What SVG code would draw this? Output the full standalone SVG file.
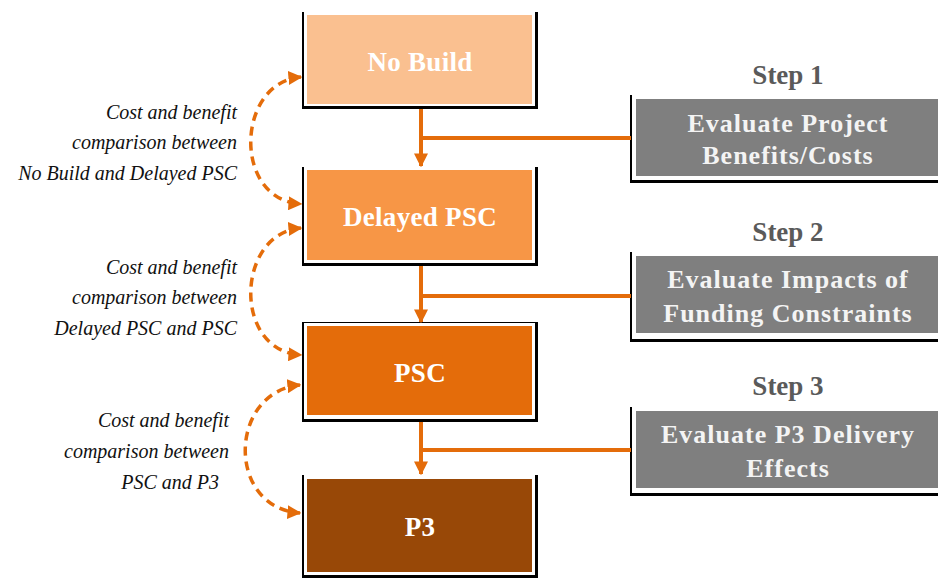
<svg xmlns="http://www.w3.org/2000/svg" width="938" height="579" viewBox="0 0 938 579">
  <defs>
    <style>
      .frame { fill: #000000; }
      .mat { fill: #FFFFFF; }
      .lbl { font-family: "Liberation Serif", "DejaVu Serif", serif; font-weight: bold; font-size: 27px; fill: #FFFFFF; text-anchor: middle; letter-spacing: 0.3px; }
      .step { font-family: "Liberation Serif", "DejaVu Serif", serif; font-weight: bold; font-size: 27px; fill: #5A5A5A; text-anchor: middle; }
      .act { font-family: "Liberation Serif", "DejaVu Serif", serif; font-weight: bold; font-size: 26px; fill: #F4F4F4; text-anchor: middle; letter-spacing: 1px; }
      .note { font-family: "Liberation Serif", "DejaVu Serif", serif; font-style: italic; font-size: 20px; fill: #111111; text-anchor: end; }
      .flow { fill: none; stroke: #E46C0A; stroke-width: 4; }
      .cmp { fill: none; stroke: #E46C0A; stroke-width: 3.5; stroke-dasharray: 9 6; }
    </style>
    <marker id="tip" viewBox="0 0 10 10" refX="9" refY="5" markerWidth="4" markerHeight="4" markerUnits="strokeWidth" orient="auto">
      <path d="M0,0 L10,5 L0,10 Z" fill="#E46C0A"/>
    </marker>
    <marker id="tipStart" viewBox="0 0 10 10" refX="1" refY="5" markerWidth="4" markerHeight="4" markerUnits="strokeWidth" orient="auto">
      <path d="M10,0 L0,5 L10,10 Z" fill="#E46C0A"/>
    </marker>
    <marker id="down" viewBox="0 0 10 10" refX="9" refY="5" markerWidth="3.5" markerHeight="3.5" markerUnits="strokeWidth" orient="auto">
      <path d="M0,0 L10,5 L0,10 Z" fill="#E46C0A"/>
    </marker>
  </defs>

  <!-- Scenario boxes -->
  <g id="no-build">
    <rect class="frame" x="302" y="12" width="236" height="97"/>
    <rect class="mat" x="304" y="11" width="231" height="95"/>
    <rect x="307" y="15" width="225" height="89" fill="#FAC090"/>
    <text class="lbl" x="420" y="71">No Build</text>
  </g>
  <g id="delayed-psc">
    <rect class="frame" x="302" y="167" width="236" height="99"/>
    <rect class="mat" x="304" y="166" width="231" height="97"/>
    <rect x="307" y="170" width="225" height="90" fill="#F79646"/>
    <text class="lbl" x="420" y="226">Delayed PSC</text>
  </g>
  <g id="psc">
    <rect class="frame" x="302" y="322" width="236" height="100"/>
    <rect class="mat" x="304" y="323" width="231" height="96"/>
    <rect x="307" y="326" width="225" height="89" fill="#E46C0A"/>
    <text class="lbl" x="420" y="382">PSC</text>
  </g>
  <g id="p3">
    <rect class="frame" x="302" y="475" width="236" height="103"/>
    <rect class="mat" x="304" y="474" width="231" height="101"/>
    <rect x="307" y="479" width="225" height="93" fill="#984807"/>
    <text class="lbl" x="420" y="536">P3</text>
  </g>

  <!-- Evaluation steps -->
  <g id="step-1">
    <text class="step" x="788" y="84">Step 1</text>
    <rect class="frame" x="630" y="95" width="315" height="88"/>
    <rect class="mat" x="632" y="94" width="313" height="86"/>
    <rect x="636" y="99" width="309" height="77" fill="#7F7F7F"/>
    <text class="act" x="788" y="132">Evaluate Project</text>
    <text class="act" x="788" y="164">Benefits/Costs</text>
  </g>
  <g id="step-2">
    <text class="step" x="788" y="241">Step 2</text>
    <rect class="frame" x="630" y="252" width="315" height="90"/>
    <rect class="mat" x="632" y="251" width="313" height="88"/>
    <rect x="636" y="256" width="309" height="77" fill="#7F7F7F"/>
    <text class="act" x="788" y="288">Evaluate Impacts of</text>
    <text class="act" x="788" y="322">Funding Constraints</text>
  </g>
  <g id="step-3">
    <text class="step" x="788" y="395">Step 3</text>
    <rect class="frame" x="630" y="407" width="315" height="89"/>
    <rect class="mat" x="632" y="406" width="313" height="87"/>
    <rect x="636" y="411" width="309" height="77" fill="#7F7F7F"/>
    <text class="act" x="788" y="443">Evaluate P3 Delivery</text>
    <text class="act" x="788" y="477">Effects</text>
  </g>

  <!-- Comparison notes -->
  <g id="note-1">
    <text class="note" x="237" y="119">Cost and benefit</text>
    <text class="note" x="237" y="149">comparison between</text>
    <text class="note" x="237" y="180">No Build and Delayed PSC</text>
  </g>
  <g id="note-2">
    <text class="note" x="237" y="274">Cost and benefit</text>
    <text class="note" x="237" y="304">comparison between</text>
    <text class="note" x="237" y="335">Delayed PSC and PSC</text>
  </g>
  <g id="note-3">
    <text class="note" x="229" y="427">Cost and benefit</text>
    <text class="note" x="229" y="458">comparison between</text>
    <text class="note" x="219" y="489">PSC and P3</text>
  </g>

  <!-- Connectors -->
  <g id="connectors">
    <path class="flow" d="M421,109 V166" marker-end="url(#down)"/>
    <path class="flow" d="M421,138 H631"/>
    <path class="flow" d="M421,266 V322" marker-end="url(#down)"/>
    <path class="flow" d="M421,296 H631"/>
    <path class="flow" d="M421,422 V474" marker-end="url(#down)"/>
    <path class="flow" d="M421,450 H631"/>

    <path class="cmp" d="M301,77 C236,82 232,200 301,204" marker-start="url(#tipStart)" marker-end="url(#tip)"/>
    <path class="cmp" d="M301,228 C236,233 232,351 301,355" marker-start="url(#tipStart)" marker-end="url(#tip)"/>
    <path class="cmp" d="M300,385 C228,392 226,508 300,513" marker-start="url(#tipStart)" marker-end="url(#tip)"/>
  </g>
</svg>
